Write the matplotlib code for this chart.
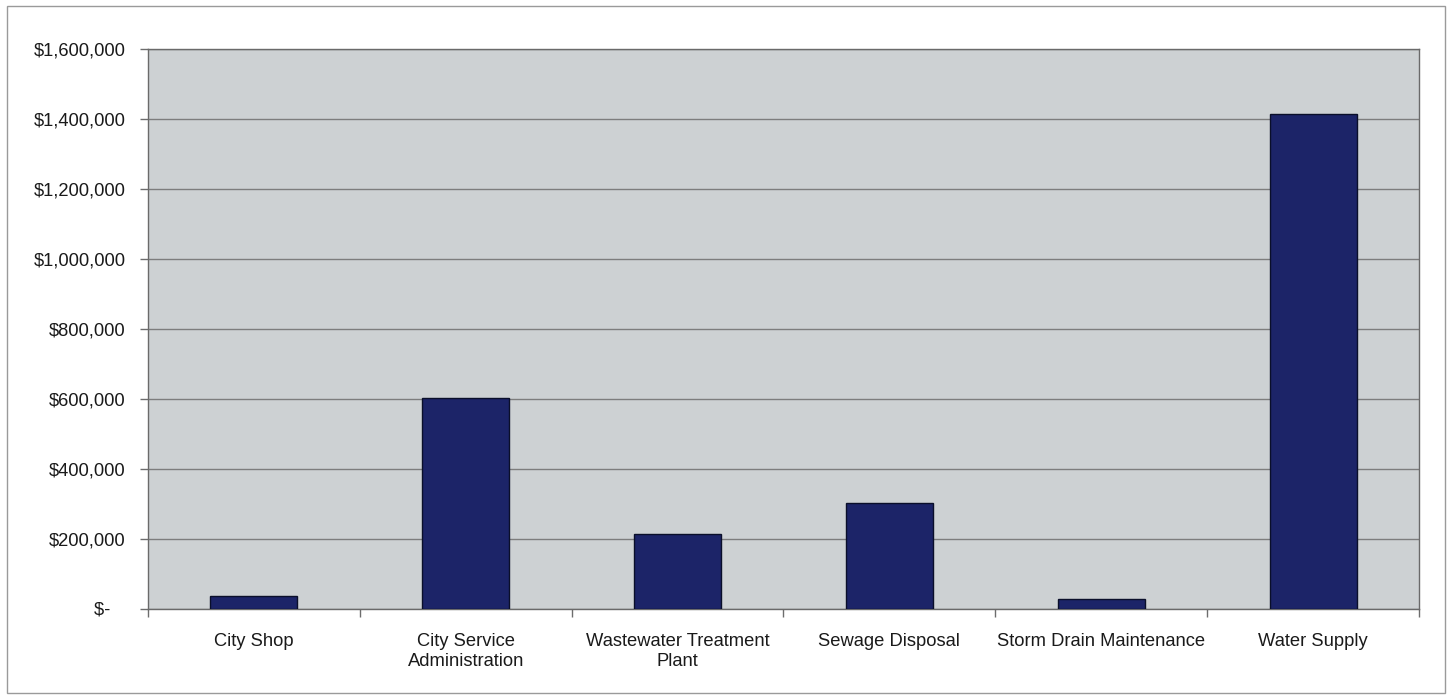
import matplotlib
matplotlib.use("Agg")
import matplotlib.pyplot as plt
from matplotlib.ticker import FuncFormatter, FixedLocator
from matplotlib.patches import Rectangle

categories = [
    "City Shop",
    "City Service\nAdministration",
    "Wastewater Treatment\nPlant",
    "Sewage Disposal",
    "Storm Drain Maintenance",
    "Water Supply",
]
costs = [36000, 601000, 213000, 302000, 28000, 1415000]
y_ticks = [0, 200000, 400000, 600000, 800000, 1000000, 1200000, 1400000, 1600000]

plt.rcParams["font.family"] = ["Liberation Sans", "DejaVu Sans"]

W, H = 1447, 697
fig = plt.figure(figsize=(W / 100, H / 100), dpi=100)
fig.patch.set_facecolor("white")

# thin frame around the whole chart
fig.patches.append(Rectangle((7 / W, 1 - 693 / H), (1445 - 7) / W, (693 - 6) / H,
                             transform=fig.transFigure, fill=False,
                             edgecolor="#9a9a9a", linewidth=1.0))

left, right, top, bottom = 148, 1419, 49, 608.5
ax = fig.add_axes([left / W, 1 - bottom / H, (right - left) / W, (bottom - top) / H])
ax.set_facecolor("#cdd1d3")

x = list(range(len(categories)))
ax.bar(x, costs, width=0.41, color="#1c2468", edgecolor="#0a0f2a",
       linewidth=1.0, zorder=3)

ax.set_xlim(-0.5, len(categories) - 0.5)
ax.set_ylim(0, 1600000)
ax.yaxis.set_major_locator(FixedLocator(y_ticks))
ax.yaxis.grid(True, color="#7d7d7d", linewidth=1.0, zorder=1)
ax.set_axisbelow(True)


def money(v, pos):
    # accounting style: zero shown as a dash, set in from the right edge
    if v == 0:
        return "$-   "
    return "${:,.0f}".format(v)


ax.yaxis.set_major_formatter(FuncFormatter(money))
ax.tick_params(axis="y", direction="out", length=6, width=1, color="#6d6d6d",
               labelsize=13.2, pad=10, labelcolor="#1a1a1a")

# category labels centred under bars, tick marks between categories
ax.set_xticks(x)
ax.set_xticklabels(categories, fontsize=13.2, color="#1a1a1a", linespacing=1.2)
ax.tick_params(axis="x", which="major", length=0, pad=18)
ax.set_xticks([i + 0.5 for i in range(-1, len(categories))], minor=True)
ax.tick_params(axis="x", which="minor", direction="out", length=6, width=1,
               color="#6d6d6d")

for side in ["left", "right", "top", "bottom"]:
    ax.spines[side].set_color("#6a6a6a")
    ax.spines[side].set_linewidth(1.0)

fig.savefig("out.png", dpi=100, facecolor="white")
